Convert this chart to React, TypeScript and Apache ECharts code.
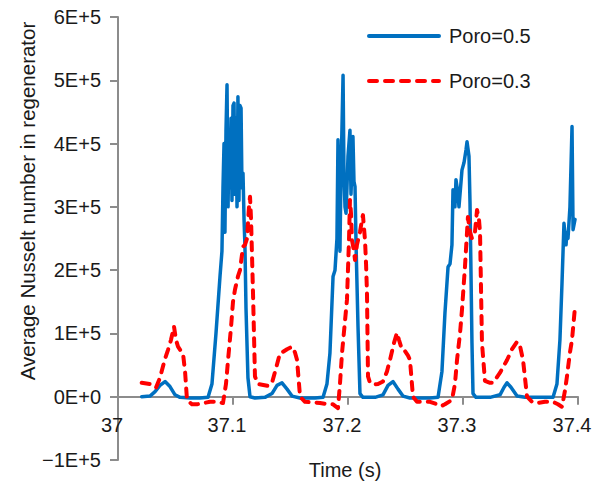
import React, { useEffect, useRef } from "react";
import * as echarts from "echarts";

// Time (s)
const blueTime = [
  37.0206, 37.0278, 37.0322, 37.0365, 37.0409, 37.0452, 37.0496, 37.0539, 37.0626, 37.0713,
  37.0783, 37.0817, 37.0852, 37.0887, 37.0904, 37.0913, 37.0922, 37.093, 37.0939, 37.0948,
  37.0957, 37.0965, 37.0974, 37.0983, 37.0991, 37.1, 37.1009, 37.1017, 37.1026, 37.1035,
  37.1043, 37.1052, 37.1061, 37.107, 37.1078, 37.1087, 37.1096, 37.1104, 37.1113, 37.113,
  37.1148, 37.1191, 37.1278, 37.1339, 37.1383, 37.1426, 37.147, 37.1513, 37.1583, 37.1713,
  37.1783, 37.1817, 37.1843, 37.187, 37.1887, 37.1904, 37.1913, 37.1922, 37.193, 37.1939,
  37.1957, 37.1965, 37.1974, 37.1983, 37.1991, 37.2, 37.2017, 37.2026, 37.2043, 37.2052,
  37.2061, 37.207, 37.2087, 37.2104, 37.213, 37.2235, 37.2304, 37.2348, 37.2391, 37.2435,
  37.2478, 37.2539, 37.2713, 37.2783, 37.2817, 37.2843, 37.287, 37.2887, 37.2904, 37.2913,
  37.293, 37.2939, 37.2957, 37.2965, 37.2983, 37.2991, 37.3009, 37.3026, 37.3035, 37.3052,
  37.3061, 37.3078, 37.3087, 37.3113, 37.3235, 37.3322, 37.3357, 37.3383, 37.3417, 37.347,
  37.3539, 37.3783, 37.3817, 37.3843, 37.3861, 37.3878, 37.3896, 37.3904, 37.3913, 37.393,
  37.3948, 37.3957, 37.3974,
];
// Average Nusselt number, Poro=0.5
const blueValue = [
  0, 1000, 8000, 18000, 24000, 16000, 3000, -1000, -2000, -2000,
  -1000, 20000, 100000, 190000, 230000, 330000, 400000, 260000, 420000, 493000,
  300000, 410000, 330000, 440000, 310000, 460000, 464000, 320000, 440000, 300000,
  474000, 310000, 460000, 456000, 330000, 353000, 280000, 237000, 140000, 30000,
  0, -2000, -1000, 5000, 18000, 22000, 12000, 1000, -2000, -2000,
  -1000, 20000, 69000, 190000, 200000, 250000, 406000, 300000, 230000, 350000,
  508000, 350000, 300000, 290000, 330000, 380000, 421000, 320000, 411000, 340000,
  332000, 240000, 111000, 5000, -1000, -1000, 3000, 18000, 24000, 12000,
  1000, -2000, -2000, -1000, 40000, 132000, 205000, 210000, 240000, 327000,
  300000, 343000, 320000, 300000, 340000, 358000, 370000, 390000, 403000, 380000,
  306000, 85000, 5000, -1000, -1000, 3000, 15000, 22000, 15000, 1000,
  -1000, -1000, 20000, 90000, 180000, 274000, 240000, 260000, 250000, 300000,
  427000, 264000, 280000,
];

const redTime = [
  37.0206, 37.0278, 37.033, 37.0365, 37.0409, 37.0435, 37.0461, 37.0487, 37.0504, 37.0522,
  37.0548, 37.0565, 37.0583, 37.06, 37.0643, 37.0687, 37.0748, 37.08, 37.087, 37.0913,
  37.0939, 37.0957, 37.0983, 37.1, 37.1017, 37.1043, 37.1061, 37.1087, 37.1104, 37.1122,
  37.1139, 37.1148, 37.1157, 37.1174, 37.1191, 37.1217, 37.1252, 37.1304, 37.1339, 37.1374,
  37.1409, 37.1435, 37.147, 37.1513, 37.1539, 37.1557, 37.1583, 37.1626, 37.1696, 37.1757,
  37.1826, 37.187, 37.1913, 37.193, 37.1948, 37.1974, 37.1991, 37.2009, 37.2017, 37.2026,
  37.2035, 37.2052, 37.2061, 37.2078, 37.2087, 37.2104, 37.2122, 37.213, 37.2148, 37.2157,
  37.2165, 37.2174, 37.2191, 37.2217, 37.2261, 37.2304, 37.2339, 37.2365, 37.24, 37.2426,
  37.2443, 37.247, 37.2496, 37.2522, 37.2539, 37.2565, 37.26, 37.267, 37.2713, 37.2774,
  37.2809, 37.2843, 37.2904, 37.293, 37.2948, 37.2974, 37.2991, 37.3017, 37.3035, 37.3043,
  37.3061, 37.3078, 37.3104, 37.3122, 37.3139, 37.3148, 37.3165, 37.3191, 37.3235, 37.3261,
  37.3322, 37.3383, 37.3426, 37.347, 37.3496, 37.3522, 37.3557, 37.36, 37.3643, 37.3713,
  37.3783, 37.3826, 37.3861, 37.3887, 37.3904, 37.393, 37.3948, 37.3974, 37.3991,
];
// Average Nusselt number, Poro=0.3
const redValue = [
  22000, 20000, 14000, 30000, 60000, 74000, 90000, 111000, 90000, 79000,
  72000, 69000, 40000, -5000, -12000, -12000, -10000, -8000, -8000, -10000,
  20000, 58000, 110000, 150000, 169000, 190000, 200000, 237000, 240000, 250000,
  300000, 316000, 280000, 164000, 32000, 20000, 19000, 17000, 22000, 45000,
  69000, 71000, 75000, 79000, 70000, 58000, 0, -8000, -9000, -10000,
  -12000, -12000, -18000, 20000, 69000, 120000, 153000, 250000, 311000, 290000,
  247000, 230000, 216000, 240000, 247000, 260000, 280000, 287000, 247000, 210000,
  164000, 32000, 22000, 19000, 20000, 24000, 40000, 58000, 85000, 101000,
  90000, 74000, 72000, 65000, 58000, 0, -8000, -8000, -8000, -12000,
  -15000, -12000, -5000, 20000, 58000, 100000, 137000, 205000, 260000, 284000,
  260000, 250000, 260000, 295000, 280000, 260000, 85000, 25000, 22000, 22000,
  38000, 58000, 75000, 87000, 80000, 58000, 0, -8000, -10000, -8000,
  -8000, -12000, -16000, 10000, 32000, 70000, 90000, 142000, 140000,
];

const seriesNames = ["Poro=0.5", "Poro=0.3"];
const xTitle = "Time (s)";
const yTitle = "Average Nusselt number in regenerator";

const FONT = "Liberation Sans, Arial, Helvetica, sans-serif";
const BLUE = "#0070C0";
const RED = "#FF0000";

export default function App() {
  const ref = useRef<HTMLDivElement>(null);
  useEffect(() => {
    if (!ref.current) return;
    const chart = echarts.init(ref.current, null, { renderer: "svg" });
    const axisColor = "#8c8c8c";
    const gridTop = 17;
    const gridBottomPx = 460;
    const yMin = -100000;
    const yMax = 600000;
    const zeroOffset = ((gridBottomPx - gridTop) * (0 - yMin)) / (yMax - yMin);
    chart.setOption({
      animation: false,
      backgroundColor: "#ffffff",
      textStyle: { fontFamily: FONT },
      grid: {
        left: 118,
        right: 15,
        top: gridTop,
        bottom: 488 - gridBottomPx,
        containLabel: false,
        outerBoundsMode: "none",
      },
      legend: {
        orient: "vertical",
        left: 362,
        top: 21,
        itemWidth: 70,
        itemHeight: 20,
        itemGap: 25,
        itemStyle: { opacity: 0 },
        textStyle: { fontSize: 20, color: "#1a1a1a", fontFamily: FONT, padding: [0, 0, 3, 5] },
        data: [
          { name: seriesNames[0], lineStyle: { color: BLUE, width: 4, cap: "round" } },
          { name: seriesNames[1], lineStyle: { color: RED, width: 4, type: [8, 8], cap: "round" } },
        ],
      },
      xAxis: {
        type: "value",
        min: 37,
        max: 37.4,
        interval: 0.1,
        offset: -zeroOffset,
        axisLine: { onZero: false, lineStyle: { color: axisColor, width: 2 } },
        axisTick: { show: true, length: 8, lineStyle: { color: axisColor, width: 2 } },
        axisLabel: {
          margin: 18,
          fontSize: 20,
          color: "#1a1a1a",
          fontFamily: FONT,
          padding: [0, 12, 0, 0],
          formatter: (v: number) => String(parseFloat(v.toFixed(1))),
        },
        splitLine: { show: false },
      },
      yAxis: {
        type: "value",
        min: yMin,
        max: yMax,
        interval: 100000,
        axisLine: { show: true, lineStyle: { color: axisColor, width: 2 } },
        axisTick: { show: true, length: 8, lineStyle: { color: axisColor, width: 2 } },
        axisLabel: {
          margin: 17,
          fontSize: 20,
          color: "#1a1a1a",
          fontFamily: FONT,
          formatter: (v: number) => {
            if (v === 0) return "0E+0";
            const n = Math.round(Math.abs(v) / 100000);
            return (v < 0 ? "\u2212" : "") + n + "E+5";
          },
        },
        splitLine: { show: false },
      },
      graphic: [
        {
          type: "text",
          x: 27,
          y: 201,
          rotation: Math.PI / 2,
          style: {
            text: yTitle,
            fontSize: 20.5,
            fontFamily: FONT,
            fill: "#1a1a1a",
            textAlign: "center",
            textVerticalAlign: "middle",
          },
        },
        {
          type: "text",
          x: 345,
          y: 470,
          style: {
            text: xTitle,
            fontSize: 20,
            fontFamily: FONT,
            fill: "#1a1a1a",
            textAlign: "center",
            textVerticalAlign: "middle",
          },
        },
      ],
      series: [
        {
          name: seriesNames[0],
          type: "line",
          showSymbol: false,
          symbol: "none",
          data: blueTime.map((t, i) => [t, blueValue[i]]),
          lineStyle: { color: BLUE, width: 3.5, join: "round", cap: "round" },
          itemStyle: { color: BLUE },
          z: 3,
        },
        {
          name: seriesNames[1],
          type: "line",
          showSymbol: false,
          symbol: "none",
          data: redTime.map((t, i) => [t, redValue[i]]),
          lineStyle: { color: RED, width: 4, type: [8, 8], cap: "round", join: "round" },
          itemStyle: { color: RED },
          z: 4,
        },
      ],
    });
    return () => chart.dispose();
  }, []);
  return (
    <div
      ref={ref}
      style={{ position: "absolute", left: 0, top: 0, width: 593, height: 488 }}
    />
  );
}
